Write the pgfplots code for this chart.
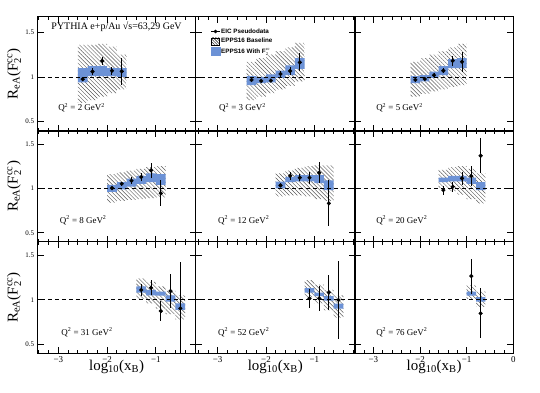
\documentclass[border=0pt]{standalone}
\usepackage{fontspec}
\setmainfont{Liberation Serif}
\setsansfont{Liberation Sans}
\usepackage{pgfplots}
\pgfplotsset{compat=1.18}
\usetikzlibrary{patterns.meta}
\definecolor{bandblue}{RGB}{108,146,214}
\tikzset{qlab/.style={anchor=base west, font=\fontsize{9}{10}\selectfont}}
\pgfplotsset{
  panel/.style={
    scale only axis, anchor=south west,
    ytick={0.5,1,1.5}, yticklabels={}, xticklabels={},
    axis line style={line width=1.3bp},
    tick style={line width=0.9bp, black},
    major tick length=6bp, minor tick length=3bp,
    tick align=inside, clip=true,
    yticklabel style={font=\fontsize{7}{8}\selectfont},
    xticklabel style={font=\fontsize{9}{10}\selectfont},
    ylabel style={font=\fontsize{15}{16}\selectfont, at={(axis description cs:-0.128,0.5)}, anchor=base},
    xlabel style={font=\fontsize{15}{16}\selectfont, at={(axis description cs:0.5,0)}, anchor=base, yshift=-17bp},
  },
  c1/.style={at={(37.7bp,#1)}, width=157.8bp, xmin=-3.422, xmax=-0.189, xtick={-3,-2,-1}, minor xtick={-3.4,-3.2,...,-0.2}},
  c2/.style={at={(195.5bp,#1)}, width=159.5bp, xmin=-3.459, xmax=-0.158, xtick={-3,-2,-1}, minor xtick={-3.4,-3.2,...,-0.2}},
  c3/.style={at={(355bp,#1)}, width=158.3bp, xmin=-3.395, xmax=0, xtick={-3,-2,-1,0}, minor xtick={-3.2,-3.0,...,-0.2}},
  r1/.style={height=114.3bp, ymin=0.396, ymax=1.674},
  r2/.style={height=110.7bp, ymin=0.399, ymax=1.647},
  r3/.style={height=111.6bp, ymin=0.4, ymax=1.65, xlabel={log\textsubscript{10}(x\textsubscript{B})}},
  leftcol/.style={yticklabels={0.5,1,1.5}, ylabel={R\textsubscript{eA}(F$^{\mathrm{c\bar{c}}}_{\mathrm{2}}$)}},
  hatchband/.style={const plot, draw=none, pattern={Lines[angle=-45,distance=2.8bp,line width=0.45bp]}, pattern color=black!65},
  blueband/.style={const plot, draw=none, fill=bandblue},
  unityline/.style={black, line width=0.8bp, dash pattern=on 4bp off 3bp},
  eicpts/.style={black, only marks, mark=*, mark size=1.9bp, error bars/.cd, y dir=both, y explicit, error mark=none, error bar style={line width=1bp, black}},
}
\begin{document}
\begin{tikzpicture}
\path[use as bounding box] (0bp,0bp) rectangle (540bp,393bp);

% ---------------- Row 1 ----------------
\begin{axis}[panel, c1=262bp, r1, leftcol]
\addplot[hatchband] coordinates {(-2.6,1.36)(-2.4,1.36)(-2.2,1.37)(-2.0,1.34)(-1.8,1.25)(-1.6,1.25)
  (-1.6,0.86)(-1.8,0.82)(-2.0,0.78)(-2.2,0.74)(-2.4,0.71)(-2.6,0.71)} -- cycle;
\addplot[blueband] coordinates {(-2.6,1.10)(-2.4,1.12)(-2.2,1.12)(-2.0,1.10)(-1.8,1.10)(-1.6,1.10)
  (-1.6,1.00)(-1.8,1.01)(-2.0,1.01)(-2.2,1.01)(-2.4,0.94)(-2.6,0.94)} -- cycle;
\addplot[unityline] coordinates {(-3.5,1)(0.1,1)};
\addplot[eicpts] coordinates {(-2.5,0.975) +- (0,0.015) (-2.3,1.06) +- (0,0.035) (-2.1,1.18) +- (0,0.045) (-1.9,1.07) +- (0,0.045) (-1.7,1.063) +- (0,0.15)};
\node[anchor=base west, font=\fontsize{10}{11}\selectfont] at (rel axis cs:0.065,0.892) {PYTHIA e+p/Au √s=63,29 GeV};
\node[qlab] at (rel axis cs:0.108,0.175) {Q\textsuperscript{2} = 2 GeV\textsuperscript{2}};
\end{axis}

\begin{axis}[panel, c2=262bp, r1,
  legend style={draw=none, fill=none, at={(rel axis cs:0.094,0.905)}, anchor=north west,
    font=\sffamily\bfseries\fontsize{6.3}{7}\selectfont, cells={anchor=west}, row sep=2.4bp, inner sep=0pt, nodes={inner sep=0.7bp}}]
\addlegendimage{legend image code/.code={\draw[black,line width=0.8bp] (0bp,0bp)--(9bp,0bp); \fill[black] (4.5bp,0bp) circle (1.6bp);}}
\addlegendentry{EIC Pseudodata}
\addlegendimage{legend image code/.code={\draw[black, line width=0.5bp, pattern={Lines[angle=-45,distance=2bp,line width=0.4bp]}, pattern color=black] (0bp,-3.5bp) rectangle (8.5bp,3.5bp);}}
\addlegendentry{EPPS16 Baseline}
\addlegendimage{legend image code/.code={\fill[bandblue] (0bp,-4bp) rectangle (9bp,4bp);}}
\addlegendentry{EPPS16 With F$^{\mathrm{c\bar{c}}}_{\mathrm{2}}$}
\addplot[hatchband] coordinates {(-2.4,1.17)(-2.2,1.21)(-2.0,1.25)(-1.8,1.29)(-1.6,1.33)(-1.4,1.38)(-1.2,1.38)
  (-1.2,0.95)(-1.4,0.90)(-1.6,0.86)(-1.8,0.82)(-2.0,0.78)(-2.2,0.74)(-2.4,0.74)} -- cycle;
\addplot[blueband] coordinates {(-2.4,1.01)(-2.2,1.00)(-2.0,1.03)(-1.8,1.07)(-1.6,1.13)(-1.4,1.21)(-1.2,1.21)
  (-1.2,1.09)(-1.4,1.02)(-1.6,0.99)(-1.8,0.94)(-2.0,0.93)(-2.2,0.91)(-2.4,0.91)} -- cycle;
\addplot[unityline] coordinates {(-3.5,1)(0.1,1)};
\addplot[eicpts] coordinates {(-2.3,0.967) +- (0,0.015) (-2.1,0.956) +- (0,0.015) (-1.9,0.959) +- (0,0.02) (-1.7,1.033) +- (0,0.03) (-1.5,1.067) +- (0,0.05) (-1.3,1.163) +- (0,0.1)};
\node[qlab] at (rel axis cs:0.126,0.175) {Q\textsuperscript{2} = 3 GeV\textsuperscript{2}};
\end{axis}

\begin{axis}[panel, c3=262bp, r1]
\addplot[hatchband] coordinates {(-2.2,1.17)(-2.0,1.21)(-1.8,1.25)(-1.6,1.29)(-1.4,1.33)(-1.2,1.37)(-1.0,1.37)
  (-1.0,0.91)(-1.2,0.89)(-1.4,0.86)(-1.6,0.84)(-1.8,0.81)(-2.0,0.78)(-2.2,0.78)} -- cycle;
\addplot[blueband] coordinates {(-2.2,1.01)(-2.0,1.02)(-1.8,1.06)(-1.6,1.12)(-1.4,1.20)(-1.2,1.21)(-1.0,1.21)
  (-1.0,1.10)(-1.2,1.10)(-1.4,1.02)(-1.6,0.99)(-1.8,0.95)(-2.0,0.93)(-2.2,0.93)} -- cycle;
\addplot[unityline] coordinates {(-3.5,1)(0.1,1)};
\addplot[eicpts] coordinates {(-2.1,0.967) +- (0,0.015) (-1.9,0.978) +- (0,0.015) (-1.7,1.019) +- (0,0.02) (-1.5,1.07) +- (0,0.03) (-1.3,1.181) +- (0,0.055) (-1.1,1.17) +- (0,0.11)};
\node[qlab] at (rel axis cs:0.112,0.175) {Q\textsuperscript{2} = 5 GeV\textsuperscript{2}};
\end{axis}

% ---------------- Row 2 ----------------
\begin{axis}[panel, c1=151.3bp, r2, leftcol]
\addplot[hatchband] coordinates {(-2.0,1.16)(-1.8,1.18)(-1.6,1.20)(-1.4,1.22)(-1.2,1.24)(-1.0,1.25)(-0.8,1.25)
  (-0.8,0.90)(-1.0,0.89)(-1.2,0.88)(-1.4,0.87)(-1.6,0.86)(-1.8,0.84)(-2.0,0.84)} -- cycle;
\addplot[blueband] coordinates {(-2.0,1.04)(-1.8,1.07)(-1.6,1.11)(-1.4,1.14)(-1.2,1.17)(-1.0,1.16)(-0.8,1.16)
  (-0.8,1.04)(-1.0,1.07)(-1.2,1.05)(-1.4,1.02)(-1.6,0.99)(-1.8,0.96)(-2.0,0.96)} -- cycle;
\addplot[unityline] coordinates {(-3.5,1)(0.1,1)};
\addplot[eicpts] coordinates {(-1.9,1.003) +- (0,0.015) (-1.7,1.052) +- (0,0.025) (-1.5,1.086) +- (0,0.04) (-1.3,1.128) +- (0,0.05) (-1.1,1.203) +- (0,0.088) (-0.9,0.944) +- (0,0.145)};
\node[qlab] at (rel axis cs:0.118,0.162) {Q\textsuperscript{2} = 8 GeV\textsuperscript{2}};
\end{axis}

\begin{axis}[panel, c2=151.3bp, r2]
\addplot[hatchband] coordinates {(-1.8,1.17)(-1.6,1.20)(-1.4,1.23)(-1.2,1.25)(-1.0,1.26)(-0.8,1.26)(-0.6,1.26)
  (-0.6,0.86)(-0.8,0.88)(-1.0,0.91)(-1.2,0.92)(-1.4,0.92)(-1.6,0.91)(-1.8,0.91)} -- cycle;
\addplot[blueband] coordinates {(-1.8,1.075)(-1.6,1.13)(-1.4,1.15)(-1.2,1.15)(-1.0,1.15)(-0.8,1.09)(-0.6,1.09)
  (-0.6,0.98)(-0.8,1.06)(-1.0,1.08)(-1.2,1.08)(-1.4,1.07)(-1.6,1.0)(-1.8,1.0)} -- cycle;
\addplot[unityline] coordinates {(-3.5,1)(0.1,1)};
\addplot[eicpts] coordinates {(-1.7,1.034) +- (0,0.02) (-1.5,1.142) +- (0,0.047) (-1.3,1.12) +- (0,0.04) (-1.1,1.12) +- (0,0.066) (-0.9,1.176) +- (0,0.12) (-0.7,0.831) +- (0,0.26)};
\node[qlab] at (rel axis cs:0.12,0.162) {Q\textsuperscript{2} = 12 GeV\textsuperscript{2}};
\end{axis}

\begin{axis}[panel, c3=151.3bp, r2]
\addplot[hatchband] coordinates {(-1.6,1.21)(-1.4,1.24)(-1.2,1.25)(-1.0,1.22)(-0.8,1.17)(-0.6,1.17)
  (-0.6,0.83)(-0.8,0.88)(-1.0,0.93)(-1.2,0.97)(-1.4,1.01)(-1.6,1.01)} -- cycle;
\addplot[blueband] coordinates {(-1.6,1.12)(-1.4,1.14)(-1.2,1.14)(-1.0,1.12)(-0.8,1.07)(-0.6,1.07)
  (-0.6,0.98)(-0.8,1.05)(-1.0,1.08)(-1.2,1.08)(-1.4,1.07)(-1.6,1.07)} -- cycle;
\addplot[unityline] coordinates {(-3.5,1)(0.1,1)};
\addplot[eicpts] coordinates {(-1.5,0.981) +- (0,0.05) (-1.3,1.018) +- (0,0.056) (-1.1,1.113) +- (0,0.075) (-0.9,1.139) +- (0,0.11) (-0.7,1.368) +- (0,0.2)};
\node[qlab] at (rel axis cs:0.112,0.162) {Q\textsuperscript{2} = 20 GeV\textsuperscript{2}};
\end{axis}

% ---------------- Row 3 ----------------
\begin{axis}[panel, c1=39.7bp, r3, leftcol, xticklabels={−3,−2,−1}]
\addplot[hatchband] coordinates {(-1.4,1.24)(-1.2,1.20)(-1.0,1.15)(-0.8,1.10)(-0.6,1.05)(-0.4,1.05)
  (-0.4,0.78)(-0.6,0.84)(-0.8,0.90)(-1.0,0.96)(-1.2,1.01)(-1.4,1.01)} -- cycle;
\addplot[blueband] coordinates {(-1.4,1.15)(-1.2,1.11)(-1.0,1.09)(-0.8,1.05)(-0.6,0.96)(-0.4,0.96)
  (-0.4,0.885)(-0.6,0.98)(-0.8,1.045)(-1.0,1.05)(-1.2,1.08)(-1.4,1.08)} -- cycle;
\addplot[unityline] coordinates {(-3.5,1)(0.1,1)};
\addplot[eicpts] coordinates {(-1.3,1.109) +- (0,0.07) (-1.1,1.134) +- (0,0.084) (-0.9,0.873) +- (0,0.11) (-0.7,1.097) +- (0,0.19) (-0.5,0.903) +- (0,0.52)};
\node[qlab] at (rel axis cs:0.128,0.162) {Q\textsuperscript{2} = 31 GeV\textsuperscript{2}};
\end{axis}

\begin{axis}[panel, c2=39.7bp, r3, xticklabels={−3,−2,−1}]
\addplot[hatchband] coordinates {(-1.2,1.22)(-1.0,1.17)(-0.8,1.11)(-0.6,1.05)(-0.4,1.05)
  (-0.4,0.80)(-0.6,0.88)(-0.8,0.96)(-1.0,1.03)(-1.2,1.03)} -- cycle;
\addplot[blueband] coordinates {(-1.2,1.13)(-1.0,1.08)(-0.8,1.04)(-0.6,0.955)(-0.4,0.955)
  (-0.4,0.90)(-0.6,0.99)(-0.8,1.04)(-1.0,1.08)(-1.2,1.08)} -- cycle;
\addplot[unityline] coordinates {(-3.5,1)(0.1,1)};
\addplot[eicpts] coordinates {(-1.1,1.015) +- (0,0.11) (-0.9,1.015) +- (0,0.136) (-0.7,1.082) +- (0,0.2) (-0.5,0.997) +- (0,0.44)};
\node[qlab] at (rel axis cs:0.12,0.162) {Q\textsuperscript{2} = 52 GeV\textsuperscript{2}};
\end{axis}

\begin{axis}[panel, c3=39.7bp, r3, xticklabels={−3,−2,−1,0}]
\addplot[hatchband] coordinates {(-1.0,1.16)(-0.8,1.09)(-0.6,1.09)
  (-0.6,0.92)(-0.8,1.01)(-1.0,1.01)} -- cycle;
\addplot[blueband] coordinates {(-1.0,1.09)(-0.8,1.03)(-0.6,1.03)
  (-0.6,0.98)(-0.8,1.045)(-1.0,1.045)} -- cycle;
\addplot[unityline] coordinates {(-3.5,1)(0.1,1)};
\addplot[eicpts] coordinates {(-0.9,1.265) +- (0,0.196) (-0.7,0.847) +- (0,0.28)};
\node[qlab] at (rel axis cs:0.112,0.162) {Q\textsuperscript{2} = 76 GeV\textsuperscript{2}};
\end{axis}
\end{tikzpicture}
\end{document}
